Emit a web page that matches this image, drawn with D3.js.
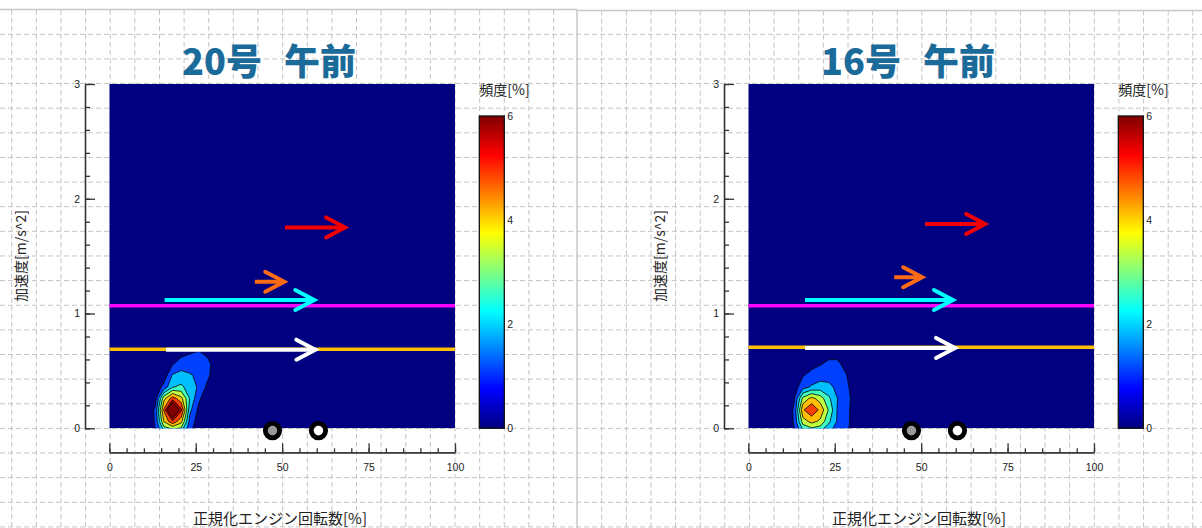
<!DOCTYPE html>
<html>
<head>
<meta charset="utf-8">
<script src="https://d3js.org/d3.v7.min.js"></script>
<style>
  body { margin: 0; background: #fff; }
  svg { display: block; }
  .tick text { font-family: "Liberation Sans", Arial, sans-serif; font-size: 10.5px; fill: #222; }
  .axis path, .axis line { stroke: #333; stroke-width: 1.3; }
  .jp { font-family: "Noto Sans CJK JP", sans-serif; }
</style>
</head>
<body>
<div id="chart"></div>
<script>
// ---- data ----
const panelTitles = [["20号", "\u3000", "午前"], ["16号", "\u3000", "午前"]];
const xLabel = "正規化エンジン回転数[%]";
const yLabel = "加速度[m/s^2]";
const colorLabel = "頻度[%]";

const xTicks = [0, 25, 50, 75, 100];
const yTicks = [0, 1, 2, 3];
const colorTicks = [0, 2, 4, 6];
const levels = [0.75, 1.5, 2.25, 3, 3.75, 4.5, 5.25, 6];

// frequency grid (rpm %, accel m/s^2)
const gridX = [8.3, 10.8, 13.3, 15.8, 18.3, 20.8, 23.3, 25.8, 28.3, 30.8, 33.3];
const gridY = [-0.04, 0.06, 0.16, 0.26, 0.36, 0.46, 0.56, 0.66, 0.76];

const freq20 = [
  [0, 0.05, 0.7, 2.0, 2.0, 2.2, 0.9, 0.2, 0, 0, 0],
  [0, 0.1, 0.85, 3.8, 5.1, 4.0, 1.2, 0.4, 0.1, 0, 0],
  [0, 0.1, 0.9, 4.6, 8.5, 5.4, 1.7, 0.6, 0.2, 0, 0],
  [0, 0.05, 0.4, 3.5, 4.9, 4.0, 2.2, 0.9, 0.3, 0.05, 0],
  [0, 0, 0.2, 1.0, 2.2, 2.4, 1.9, 1.4, 0.6, 0.1, 0],
  [0, 0, 0, 0.3, 1.6, 1.8, 1.6, 1.3, 0.95, 0.3, 0],
  [0, 0, 0, 0.1, 0.7, 1.1, 1.1, 1.0, 0.9, 0.55, 0],
  [0, 0, 0, 0, 0.3, 0.5, 0.7, 0.8, 0.65, 0.2, 0],
  [0, 0, 0, 0, 0, 0.1, 0.2, 0.3, 0.2, 0, 0]
];

const freq16 = [
  [0, 0.05, 0.7, 1.9, 2.2, 2.1, 1.6, 1.1, 0.9, 0.35, 0],
  [0, 0.1, 0.85, 3.4, 4.0, 3.6, 2.4, 1.4, 1.0, 0.4, 0],
  [0, 0.1, 0.9, 4.4, 5.1, 4.33, 2.9, 1.42, 1.0, 0.4, 0],
  [0, 0.05, 0.7, 3.2, 4.0, 3.4, 2.4, 1.5, 1.05, 0.45, 0],
  [0, 0, 0.4, 1.2, 1.6, 1.8, 1.7, 1.3, 0.95, 0.35, 0],
  [0, 0, 0.1, 0.7, 1.0, 1.2, 1.2, 1.1, 0.8, 0.2, 0],
  [0, 0, 0, 0.1, 0.5, 0.7, 0.9, 0.9, 0.5, 0, 0],
  [0, 0, 0, 0, 0.1, 0.3, 0.5, 0.5, 0.2, 0, 0],
  [0, 0, 0, 0, 0, 0, 0.1, 0.1, 0, 0, 0]
];

const magentaLevel = [1.068, 1.068];
const goldLevel = [0.688, 0.706];

// red, orange, cyan, white
const arrowStart20 = [50.8, 42.1, 16.0, 16.4];
const arrowEnd20 = [68.2, 50.6, 59.3, 59.6];
const arrowLevel20 = [1.75, 1.277, 1.118, 0.685];
const arrowStart16 = [51.1, 42.2, 16.4, 16.4];
const arrowEnd16 = [68.5, 50.3, 59.2, 59.8];
const arrowLevel16 = [1.78, 1.316, 1.118, 0.70];

const markerX = [47.2, 60.5];
const markerY = -0.02;

// ---- styles ----
const arrowColors = ["#f00000", "#ff6a14", "#00ffff", "#ffffff"];
const markerFills = ["#999999", "#ffffff"];

const jet = d3.scaleLinear()
    .domain([0, 0.75, 2.25, 3.75, 5.25, 6])
    .range(["#000080", "#0000ff", "#00ffff", "#ffff00", "#ff0000", "#800000"])
    .clamp(true);

const W = 1202, H = 528;

const svg = d3.select("#chart").append("svg")
    .attr("width", W)
    .attr("height", H);

// background dashed grid (two pasted screenshots)
const bg = svg.append("g").attr("stroke", "#c4c4c4").attr("stroke-dasharray", "5,3");
const step = 24.63;
d3.range(11.7, 577, step).forEach(function(x) {
    bg.append("line").attr("x1", x).attr("x2", x).attr("y1", 10).attr("y2", H);
});
d3.range(601.7, W, step).forEach(function(x) {
    bg.append("line").attr("x1", x).attr("x2", x).attr("y1", 10.5).attr("y2", H);
});
d3.range(34.3, H, step).forEach(function(y) {
    bg.append("line").attr("x1", 0).attr("x2", W).attr("y1", y).attr("y2", y);
});
svg.append("line").attr("x1", 0).attr("x2", 577).attr("y1", 9.5).attr("y2", 9.5)
    .attr("stroke", "#c8c8c8").attr("stroke-width", 1.5);
svg.append("line").attr("x1", 577).attr("x2", W).attr("y1", 10.5).attr("y2", 10.5)
    .attr("stroke", "#c8c8c8").attr("stroke-width", 1.5);
svg.append("line").attr("x1", 577).attr("x2", 577).attr("y1", 9.5).attr("y2", H)
    .attr("stroke", "#c8c8c8").attr("stroke-width", 1.5);

ContourPanel = function(_parent, _opts) {
    this.parent = _parent;
    this.opts = _opts;
    this.initVis();
};

ContourPanel.prototype.initVis = function() {
    let vis = this;
    let o = vis.opts;

    vis.left = 109.3;
    vis.top = 84;
    vis.width = 345.7;
    vis.height = 344.3;

    vis.g = vis.parent.append("g")
        .attr("transform", `translate(${o.offset},0)`);

    // Scales
    vis.x = d3.scaleLinear().domain([0, 100]).range([vis.left, vis.left + vis.width]);
    vis.y = d3.scaleLinear().domain([0, 3]).range([vis.top + vis.height, vis.top]);
    vis.c = d3.scaleLinear().domain([0, 6]).range([vis.top + vis.height, 116]);

    // Title
    let title = vis.g.append("text")
        .attr("class", "jp")
        .attr("x", 269)
        .attr("y", 75)
        .attr("text-anchor", "middle")
        .attr("font-size", "36px")
        .attr("font-weight", "900")
        .attr("fill", "#1a6a9a");
    title.selectAll("tspan")
        .data(o.title)
        .enter().append("tspan")
        .attr("font-size", function(d, i) { return i === 1 ? "22px" : null; })
        .text(function(d) { return d; });

    // Plot background
    let clipId = "clip" + o.index;
    vis.g.append("clipPath").attr("id", clipId)
        .append("rect")
        .attr("x", vis.left).attr("y", vis.top)
        .attr("width", vis.width).attr("height", vis.height);

    vis.plot = vis.g.append("g").attr("clip-path", `url(#${clipId})`);
    vis.plot.append("rect")
        .attr("x", vis.left).attr("y", vis.top)
        .attr("width", vis.width).attr("height", vis.height)
        .attr("fill", jet(0));

    // Filled contours
    let nx = gridX.length, ny = gridY.length;
    let dx = gridX[1] - gridX[0], dy = gridY[1] - gridY[0];
    let contours = d3.contours().size([nx, ny]).thresholds(levels)(d3.merge(o.freq));
    let proj = d3.geoTransform({
        point: function(px, py) {
            this.stream.point(vis.x(gridX[0] + (px - 0.5) * dx), vis.y(gridY[0] + (py - 0.5) * dy));
        }
    });
    let path = d3.geoPath(proj);
    let bandTop = levels.slice(1).concat([6.75]);
    vis.plot.selectAll("path.band")
        .data(contours)
        .enter().append("path")
        .attr("class", "band")
        .attr("d", path)
        .attr("fill", function(d, i) { return jet((d.value + bandTop[i]) / 2); })
        .attr("stroke", "#000")
        .attr("stroke-width", 0.8)
        .attr("stroke-linejoin", "round");

    // Horizontal reference lines
    vis.plot.append("line")
        .attr("x1", vis.x(0)).attr("x2", vis.x(100))
        .attr("y1", vis.y(o.magenta)).attr("y2", vis.y(o.magenta))
        .attr("stroke", "#ff00ff").attr("stroke-width", 3.5);
    vis.plot.append("line")
        .attr("x1", vis.x(0)).attr("x2", vis.x(100))
        .attr("y1", vis.y(o.gold)).attr("y2", vis.y(o.gold))
        .attr("stroke", "#ffc000").attr("stroke-width", 3.5);

    // Arrows
    let arrows = o.start.map(function(s, i) {
        return { x1: s, x2: o.end[i], y: o.level[i], color: arrowColors[i] };
    });
    let ag = vis.plot.selectAll("g.arrow")
        .data(arrows)
        .enter().append("g")
        .attr("class", "arrow")
        .attr("stroke", function(d) { return d.color; })
        .attr("fill", "none")
        .attr("stroke-width", 4);
    ag.append("line")
        .attr("x1", function(d) { return vis.x(d.x1); })
        .attr("x2", function(d) { return vis.x(d.x2) - 2; })
        .attr("y1", function(d) { return vis.y(d.y); })
        .attr("y2", function(d) { return vis.y(d.y); });
    ag.append("path")
        .attr("stroke-linecap", "round")
        .attr("stroke-linejoin", "miter")
        .attr("d", function(d) {
            let tx = vis.x(d.x2), ty = vis.y(d.y);
            return `M${tx - 19},${ty - 10}L${tx},${ty}L${tx - 19},${ty + 10}`;
        });

    // Y axis
    vis.g.append("g")
        .attr("class", "y axis")
        .attr("transform", "translate(85,0)")
        .call(d3.axisLeft(vis.y).tickValues(d3.range(0, 3.01, 0.2)).tickSize(-5).tickSizeOuter(0).tickFormat(""));
    vis.g.append("g")
        .attr("class", "y axis")
        .attr("transform", "translate(85,0)")
        .call(d3.axisLeft(vis.y).tickValues(yTicks).tickSize(-10).tickSizeOuter(0).tickPadding(5)
            .tickFormat(d3.format("d")));

    // X axis
    vis.g.append("g")
        .attr("class", "x axis")
        .attr("transform", "translate(0,452.3)")
        .call(d3.axisBottom(vis.x).tickValues(d3.range(0, 101, 5)).tickSize(-4).tickSizeOuter(0).tickFormat(""));
    vis.g.append("g")
        .attr("class", "x axis")
        .attr("transform", "translate(0,452.3)")
        .call(d3.axisBottom(vis.x).tickValues(xTicks).tickSize(-9).tickSizeOuter(0).tickPadding(11)
            .tickFormat(d3.format("d")));

    // Markers on the rpm axis
    vis.g.selectAll("circle.marker")
        .data(markerX)
        .enter().append("circle")
        .attr("class", "marker")
        .attr("cx", function(d) { return vis.x(d); })
        .attr("cy", vis.y(markerY))
        .attr("r", 7.2)
        .attr("fill", function(d, i) { return markerFills[i]; })
        .attr("stroke", "#000")
        .attr("stroke-width", 4.8);

    // Axis titles
    vis.g.append("text")
        .attr("class", "jp")
        .attr("x", 280)
        .attr("y", 524)
        .attr("text-anchor", "middle")
        .attr("font-size", "15px")
        .attr("fill", "#222")
        .text(xLabel);
    vis.g.append("text")
        .attr("class", "jp")
        .attr("transform", "translate(26,256) rotate(-90)")
        .attr("text-anchor", "middle")
        .attr("font-size", "14px")
        .attr("fill", "#222")
        .text(yLabel);

    // Colour bar
    let gradId = "grad" + o.index;
    let grad = vis.g.append("defs").append("linearGradient")
        .attr("id", gradId)
        .attr("x1", 0).attr("y1", 1).attr("x2", 0).attr("y2", 0);
    grad.selectAll("stop")
        .data(jet.domain())
        .enter().append("stop")
        .attr("offset", function(d) { return d / 6; })
        .attr("stop-color", function(d) { return jet(d); });
    vis.g.append("rect")
        .attr("x", 479.3).attr("y", vis.c(6))
        .attr("width", 25).attr("height", vis.c(0) - vis.c(6))
        .attr("fill", `url(#${gradId})`)
        .attr("stroke", "#111").attr("stroke-width", 1.3);
    vis.g.append("g")
        .attr("class", "c axis")
        .attr("transform", "translate(504.3,0)")
        .call(d3.axisRight(vis.c).tickValues(colorTicks).tickSize(0).tickPadding(3).tickFormat(d3.format("d")))
        .call(function(g) { g.select(".domain").remove(); });
    vis.g.append("text")
        .attr("class", "jp")
        .attr("x", 479.3)
        .attr("y", 95)
        .attr("font-size", "14px")
        .attr("fill", "#222")
        .text(colorLabel);
};

new ContourPanel(svg, {
    index: 0, offset: 0, title: panelTitles[0], freq: freq20,
    magenta: magentaLevel[0], gold: goldLevel[0],
    start: arrowStart20, end: arrowEnd20, level: arrowLevel20
});
new ContourPanel(svg, {
    index: 1, offset: 639, title: panelTitles[1], freq: freq16,
    magenta: magentaLevel[1], gold: goldLevel[1],
    start: arrowStart16, end: arrowEnd16, level: arrowLevel16
});
</script>
</body>
</html>
